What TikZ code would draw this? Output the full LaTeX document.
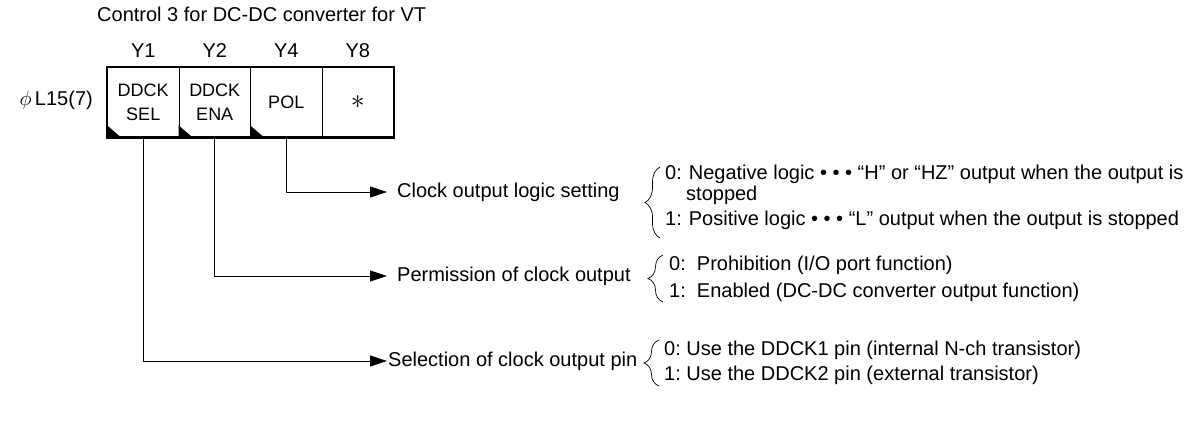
\documentclass[tikz,border=0pt]{standalone}
\usepackage{fontspec}
\setmainfont{Liberation Sans}
\usetikzlibrary{positioning,arrows.meta,decorations.pathreplacing}
\tikzset{
  regcell/.style={draw, line width=0.8pt, minimum width=71.5pt, minimum height=70pt, align=center, inner sep=0pt, font=\fontsize{18}{24}\selectfont},
  linkarrow/.style={-{Triangle[length=17pt, width=11pt]}, line width=0.8pt},
  itemtext/.style={anchor=west, inner sep=0pt},
  optbrace/.style={decorate, decoration={brace, amplitude=15pt}, line width=0.7pt},
  cornermark/.style={fill=black}
}

\begin{document}
\begin{tikzpicture}[x=1pt, y=-1pt, every node/.style={font=\fontsize{20}{24}\selectfont}]
  \useasboundingbox (0,0) rectangle (1199,431);
  \node[itemtext] (title) at (97,14) {Control 3 for DC-DC converter for VT};
  \node[anchor=east, inner sep=0pt] (addr) at (93,100) {$\phi$\,L15(7)};

  % register bits
  \node[regcell] (sel) at (143.25,102) {DDCK\\SEL};
  \node[regcell] (ena) at (214.75,102) {DDCK\\ENA};
  \node[regcell] (pol) at (286.25,102) {POL};
  \node[regcell] (unused) at (357.75,102) {\scalebox{1.6}{$\ast$}};
  \draw[line width=2.2pt] (sel.north west) rectangle (unused.south east);
  \foreach \c in {sel,ena,pol}
    \fill[cornermark] (\c.south west) -- ++(0,-12) -- ++(14,12) -- cycle;

  \node (ysel) at (143.25,51) {Y1};
  \node (yena) at (214.75,51) {Y2};
  \node (ypol) at (286.25,51) {Y4};
  \node (yunused) at (357.75,51) {Y8};

  % what each bit selects
  \node[itemtext] (logic) at (397,192) {Clock output logic setting};
  \node[itemtext] (permit) at (397,276) {Permission of clock output};
  \node[itemtext] (pinsel) at (388,361) {Selection of clock output pin};
  \draw[linkarrow] (pol.south) |- ([xshift=-10pt]logic.west);
  \draw[linkarrow] (ena.south) |- ([xshift=-10pt]permit.west);
  \draw[linkarrow] (sel.south) |- ([xshift=-1pt]pinsel.west);

  % settings
  \coordinate (b1top) at (660,167);
  \coordinate (b1bot) at (660,238);
  \coordinate (b2top) at (663,255);
  \coordinate (b2bot) at (663,302);
  \coordinate (b3top) at (659,340);
  \coordinate (b3bot) at (659,386);
  \draw[optbrace] (b1bot) -- (b1top);
  \draw[optbrace] (b2bot) -- (b2top);
  \draw[optbrace] (b3bot) -- (b3top);

  \node[itemtext] (neg) at (665,174) {0:\hspace{7pt}Negative logic • • • “H” or “HZ” output when the output is};
  \node[itemtext] (negb) at (686,195) {stopped};
  \node[itemtext] (posi) at (665,220) {1:\hspace{7pt}Positive logic • • • “L” output when the output is stopped};
  \node[itemtext] (proh) at (669,265) {0:\ \ Prohibition (I/O port function)};
  \node[itemtext] (enab) at (669,292) {1:\ \ Enabled (DC-DC converter output function)};
  \node[itemtext] (pin1) at (664,350) {0:\ Use the DDCK1 pin (internal N-ch transistor)};
  \node[itemtext] (pin2) at (664,375) {1:\ Use the DDCK2 pin (external transistor)};
\end{tikzpicture}
\end{document}
